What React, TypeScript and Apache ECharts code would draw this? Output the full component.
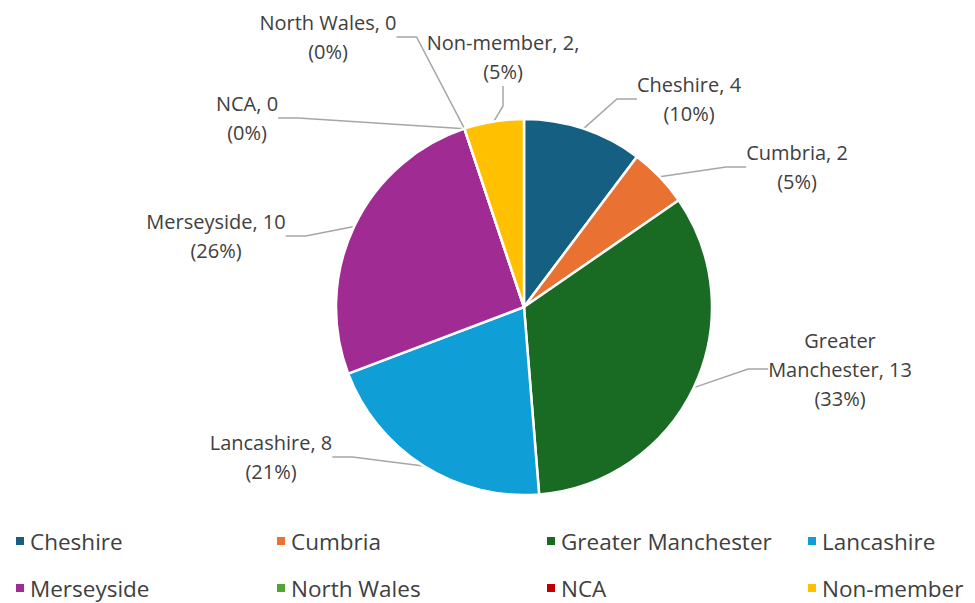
import React, { useEffect, useRef } from "react";
import * as echarts from "echarts";

const categories = ["Cheshire", "Cumbria", "Greater Manchester", "Lancashire", "Merseyside", "North Wales", "NCA", "Non-member"];
const counts = [4, 2, 13, 8, 10, 0, 0, 2];
const colors = ["#156082", "#E97132", "#196B24", "#0F9ED5", "#A02B93", "#4EA72E", "#C00000", "#FFC000"];

// label centre positions (layout only)
const labelPos: Record<string, [number, number]> = {
  "Cheshire": [689, 99],
  "Cumbria": [797, 167],
  "Greater Manchester": [840, 369],
  "Lancashire": [271, 457],
  "Merseyside": [216, 236],
  "North Wales": [328, 37],
  "NCA": [247, 118],
  "Non-member": [503, 57],
};
// legend icon positions (layout only)
const legendPos: [number, number][] = [
  [14, 541], [275, 541], [545, 541], [806, 541],
  [14, 588], [275, 588], [545, 588], [806, 588],
];

const FONT = "Open Sans";

export default function App() {
  const ref = useRef<HTMLDivElement>(null);
  useEffect(() => {
    if (!ref.current) return;
    const chart = echarts.init(ref.current, null, { renderer: "svg" });
    const data = categories.map((name, i) => ({ name, value: counts[i], itemStyle: { color: colors[i] } }));
    chart.setOption({
      animation: false,
      backgroundColor: "#ffffff",
      textStyle: { fontFamily: FONT },
      legend: categories.map((name, i) => ({
        data: [name],
        left: legendPos[i][0],
        top: legendPos[i][1] - 14,
        icon: "rect",
        itemWidth: 10,
        itemHeight: 10,
        itemGap: 0,
        padding: 0,
        selectedMode: false,
        textStyle: { fontFamily: FONT, fontSize: 22.5, color: "#404040", lineHeight: 28 },
      })),
      series: [
        {
          type: "pie",
          center: [524, 307],
          radius: 188,
          startAngle: 90,
          clockwise: true,
          percentPrecision: 0,
          avoidLabelOverlap: false,
          itemStyle: { borderColor: "#ffffff", borderWidth: 2.5 },
          data,
          label: {
            show: true,
            position: "outside",
            fontFamily: FONT,
            fontSize: 20,
            lineHeight: 29,
            color: "#404040",
            align: "center",
            formatter: (p: any) => {
              const name = p.name === "Greater Manchester" ? "Greater\nManchester" : p.name;
              const sep = p.name === "Non-member" ? ",\n" : "\n";
              return `${name}, ${p.value}${sep}(${p.percent}%)`;
            },
          },
          labelLine: {
            show: true,
            length: 20,
            length2: 20,
            lineStyle: { color: "#A6A6A6", width: 1.5 },
          },
          labelLayout: (params: any) => {
            const name = categories[params.dataIndex];
            const pos = labelPos[name];
            return { x: pos[0], y: pos[1], align: "center", verticalAlign: "middle" };
          },
          emphasis: { disabled: true },
        },
      ],
    });
    return () => chart.dispose();
  }, []);
  return <div ref={ref} style={{ position: "fixed", left: 0, top: 0, width: 975, height: 603 }} />;
}
